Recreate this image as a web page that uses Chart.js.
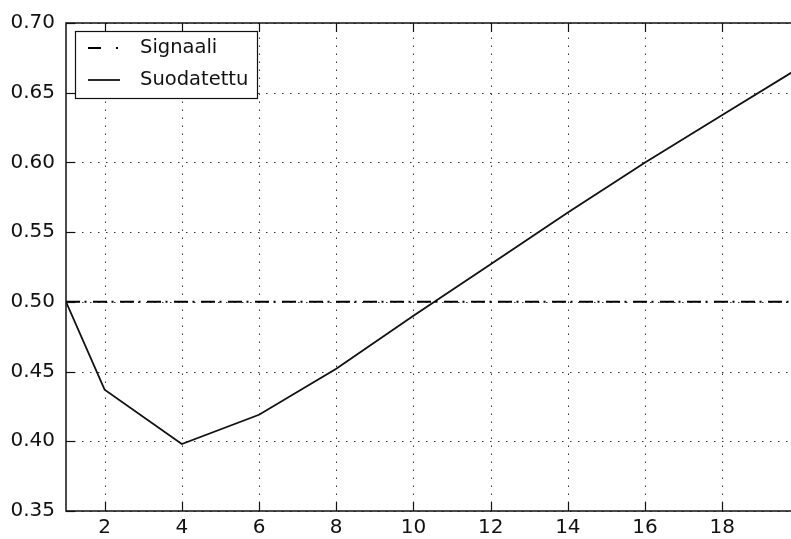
<!DOCTYPE html>
<html>
<head>
<meta charset="utf-8">
<script src="https://cdn.jsdelivr.net/npm/chart.js@4"></script>
<style>
  html, body { margin: 0; padding: 0; background: #fff; }
  #wrap { width: 791px; height: 539px; }
</style>
</head>
<body>
<div id="wrap"><canvas id="myChart" width="791" height="539"></canvas></div>
<script>
// data
var xValues = [1, 2, 4, 6, 8, 10, 12, 14, 16, 18, 20];
var signaali = [0.5, 0.5, 0.5, 0.5, 0.5, 0.5, 0.5, 0.5, 0.5, 0.5, 0.5];
var suodatettu = [0.500, 0.437, 0.398, 0.419, 0.452, 0.490, 0.527, 0.564, 0.600, 0.634, 0.668];
var xTicks = [2, 4, 6, 8, 10, 12, 14, 16, 18];
var yTicks = [0.35, 0.40, 0.45, 0.50, 0.55, 0.60, 0.65, 0.70];

var FONT = "'DejaVu Sans', sans-serif";

function pts(ys) {
    return xValues.map(function (x, i) { return { x: x, y: ys[i] }; });
}

// matplotlib-like frame: dotted grid, spines, inward ticks, boxed legend
var mplFrame = {
    id: 'mplFrame',
    beforeDatasetsDraw: function (chart) {
        var ctx = chart.ctx, a = chart.chartArea;
        var sx = chart.scales.x, sy = chart.scales.y;
        ctx.save();
        ctx.strokeStyle = '#333';
        ctx.lineWidth = 1;
        ctx.setLineDash([1.5, 6.5]);
        xTicks.forEach(function (t) {
            var px = Math.round(sx.getPixelForValue(t)) + 0.5;
            ctx.beginPath(); ctx.moveTo(px, a.bottom); ctx.lineTo(px, a.top); ctx.stroke();
        });
        yTicks.forEach(function (t) {
            var py = Math.round(sy.getPixelForValue(t)) + 0.5;
            ctx.beginPath(); ctx.moveTo(a.left, py); ctx.lineTo(a.right, py); ctx.stroke();
        });
        ctx.restore();
    },
    afterDatasetsDraw: function (chart) {
        var ctx = chart.ctx, a = chart.chartArea;
        var sx = chart.scales.x, sy = chart.scales.y;
        ctx.save();
        ctx.setLineDash([]);
        ctx.strokeStyle = '#111';
        ctx.lineWidth = 1.5;
        // top, left, bottom spines
        ctx.beginPath();
        ctx.moveTo(a.right + 5, a.top); ctx.lineTo(a.left, a.top);
        ctx.lineTo(a.left, a.bottom); ctx.lineTo(a.right + 5, a.bottom);
        ctx.stroke();
        // inward ticks
        ctx.lineWidth = 1.2;
        var tl = 9;
        xTicks.forEach(function (t) {
            var px = Math.round(sx.getPixelForValue(t)) + 0.5;
            ctx.beginPath(); ctx.moveTo(px, a.bottom); ctx.lineTo(px, a.bottom - tl); ctx.stroke();
            ctx.beginPath(); ctx.moveTo(px, a.top); ctx.lineTo(px, a.top + tl); ctx.stroke();
        });
        yTicks.forEach(function (t) {
            var py = Math.round(sy.getPixelForValue(t)) + 0.5;
            ctx.beginPath(); ctx.moveTo(a.left, py); ctx.lineTo(a.left + tl, py); ctx.stroke();
        });

        // legend box
        var bx = 75.5, by = 31.5, bw = 182, bh = 67;
        ctx.fillStyle = '#fff';
        ctx.fillRect(bx, by, bw, bh);
        ctx.lineWidth = 1.2;
        ctx.strokeStyle = '#111';
        ctx.strokeRect(bx, by, bw, bh);
        var rows = [48, 80];
        var sampleDash = [[13, 15, 2, 40], []];
        ctx.font = '19.5px ' + FONT;
        ctx.textBaseline = 'middle';
        ctx.textAlign = 'left';
        chart.data.datasets.forEach(function (ds, i) {
            var y = rows[i];
            ctx.strokeStyle = ds.borderColor;
            ctx.lineWidth = ds.borderWidth;
            ctx.setLineDash(sampleDash[i]);
            ctx.beginPath(); ctx.moveTo(88, y); ctx.lineTo(120, y); ctx.stroke();
            ctx.setLineDash([]);
            ctx.fillStyle = '#111';
            ctx.fillText(ds.label, 140, y);
        });
        ctx.restore();
    }
};

var ctx = document.getElementById('myChart').getContext('2d');

var myChart = new Chart(ctx, {
    type: 'line',
    data: {
        datasets: [{
            label: 'Signaali',
            data: pts(signaali),
            borderColor: '#000',
            borderWidth: 2,
            borderDash: [14, 4.5, 2, 6.5],
            pointRadius: 0,
            tension: 0
        }, {
            label: 'Suodatettu',
            data: pts(suodatettu),
            borderColor: '#111',
            borderWidth: 1.8,
            pointRadius: 0,
            tension: 0
        }]
    },
    options: {
        responsive: false,
        animation: false,
        events: [],
        layout: { padding: { top: 22, right: 0, left: 0, bottom: 0 } },
        plugins: {
            legend: { display: false },
            tooltip: { enabled: false }
        },
        scales: {
            x: {
                type: 'linear',
                min: 1,
                max: 19.78,
                afterBuildTicks: function (scale) {
                    scale.ticks = xTicks.map(function (v) { return { value: v }; });
                },
                afterFit: function (scale) { scale.height = 28; },
                grid: { display: false, drawTicks: false },
                border: { display: false },
                ticks: {
                    color: '#111',
                    padding: 5,
                    maxRotation: 0,
                    autoSkip: false,
                    font: { family: FONT, size: 20 }
                }
            },
            y: {
                min: 0.35,
                max: 0.70,
                afterBuildTicks: function (scale) {
                    scale.ticks = yTicks.map(function (v) { return { value: v }; });
                },
                afterFit: function (scale) { scale.width = 66; },
                grid: { display: false, drawTicks: false },
                border: { display: false },
                ticks: {
                    color: '#111',
                    padding: 11,
                    font: { family: FONT, size: 20 },
                    callback: function (v) { return v.toFixed(2); }
                }
            }
        }
    },
    plugins: [mplFrame]
});
</script>
</body>
</html>
